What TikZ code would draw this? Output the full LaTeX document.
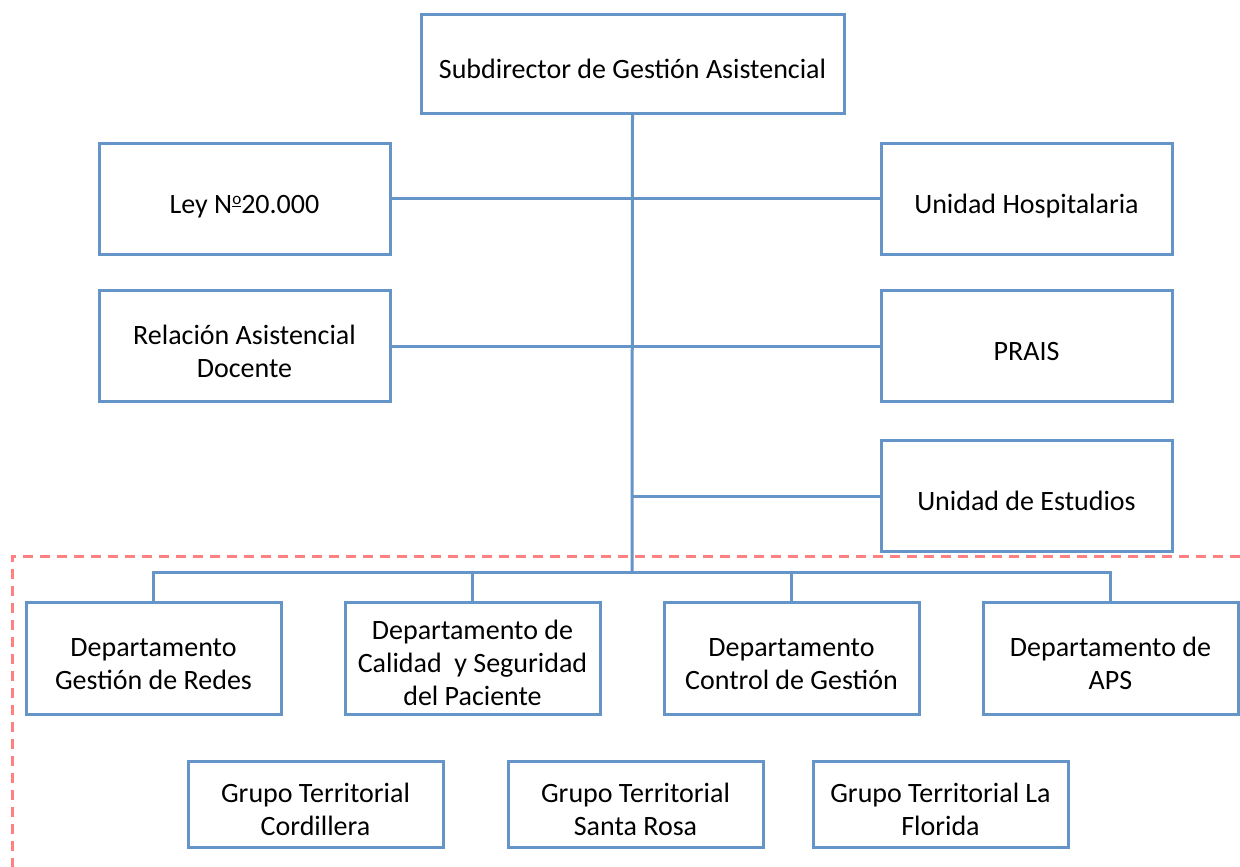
\documentclass[tikz,border=0pt]{standalone}
\usepackage{fontspec}
\setmainfont{Carlito}
\definecolor{boxblue}{RGB}{100,148,200}
\definecolor{zonered}{RGB}{255,128,128}
% box text: centred lines, drawn a little below the box centre
\newcommand{\boxtext}[1]{\raisebox{-8pt}[\height][\depth]{\begin{tabular}{@{}c@{}}#1\end{tabular}}}
% underlined raised ordinal
\newcommand{\ordo}{\raisebox{0.3em}{\fontsize{17}{17}\selectfont\underline{o}}}
\begin{document}
\begin{tikzpicture}[x=1pt,y=-1pt,
  unitbox/.style={draw=boxblue, line width=3pt, fill=white, inner sep=0pt,
    font=\fontsize{28}{33}\selectfont},
  wide/.style={unitbox, minimum width=291pt, minimum height=111pt},
  dept/.style={unitbox, minimum width=255pt, minimum height=112pt},
  grupo/.style={unitbox, minimum width=255pt, minimum height=86pt},
  link/.style={draw=boxblue, line width=3pt},
  zone/.style={draw=zonered, line width=3pt, dash pattern=on 10pt off 7pt}]
\useasboundingbox (0,0) rectangle (1240,867);

% dashed zone around the departments
\coordinate (zoneR) at (1240,556);
\coordinate (zoneC) at (12,556);
\coordinate (zoneB) at (12,867);
\draw[zone] (zoneR) -- (zoneC) -- (zoneB);

% head
\node[unitbox, minimum width=423pt, minimum height=98pt] (top) at (632.5,64) {\boxtext{Subdirector de Gestión Asistencial}};

% staff units
\node[wide] (ley) at (244.5,198.5) {\boxtext{Ley N\ordo20.000}};
\node[wide] (hosp) at (1026.5,198.5) {\boxtext{Unidad Hospitalaria}};
\node[wide] (rad) at (244.5,346) {\boxtext{Relación Asistencial\\Docente}};
\node[wide] (prais) at (1026.5,346) {\boxtext{PRAIS}};
\node[wide] (est) at (1026.5,496) {\boxtext{Unidad de Estudios}};

% departments
\node[dept] (d1) at (153.5,658) {\boxtext{Departamento\\Gestión de Redes}};
\node[dept] (d2) at (472.5,658) {\boxtext{Departamento de\\Calidad\ \ y Seguridad\\del Paciente}};
\node[dept] (d3) at (791.5,658) {\boxtext{Departamento\\Control de Gestión}};
\node[dept] (d4) at (1110.5,658) {\boxtext{Departamento de\\APS}};

% territorial groups
\node[grupo] (g1) at (315.5,804) {\boxtext{Grupo Territorial\\Cordillera}};
\node[grupo] (g2) at (635.5,804) {\boxtext{Grupo Territorial\\Santa Rosa}};
\node[grupo] (g3) at (940.5,804) {\boxtext{Grupo Territorial La\\Florida}};

% connectors
\coordinate (bus) at (632,572);
\path[link] (top.south) -- (bus);
\path[link] (ley.east) -- (hosp.west);
\path[link] (rad.east) -- (prais.west);
\path[link] (est.west -| bus) -- (est.west);
\path[link] (d1.north) |- (bus) -| (d4.north);
\path[link] (d2.north) -- (d2.north |- bus);
\path[link] (d3.north) -- (d3.north |- bus);
\end{tikzpicture}
\end{document}
